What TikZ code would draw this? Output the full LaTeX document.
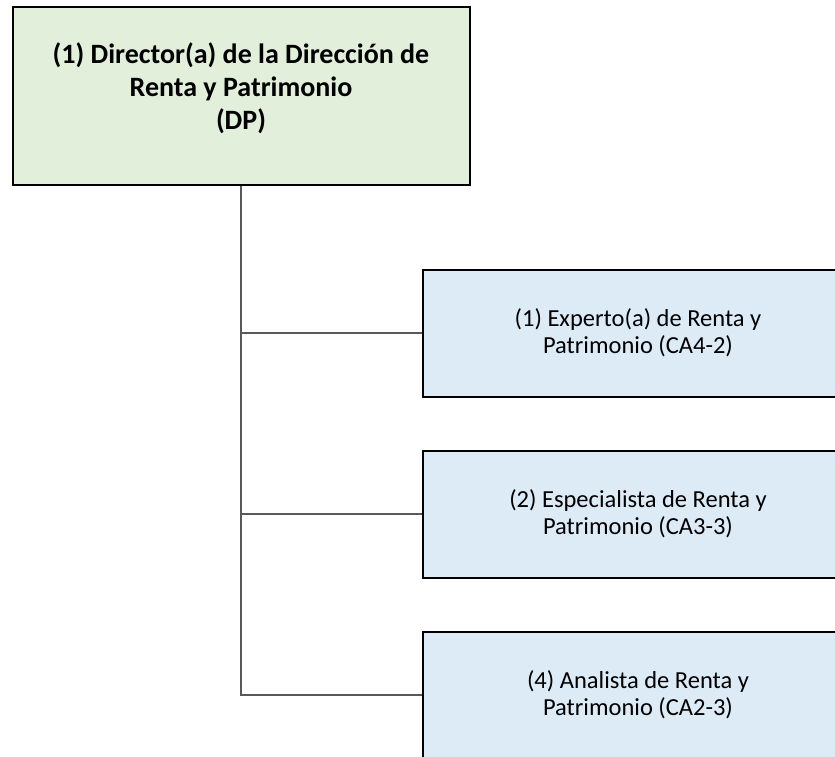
\documentclass[tikz,border=0pt]{standalone}
\usepackage{fontspec}
\setmainfont{Carlito}
\usepackage{tikz}
\usetikzlibrary{positioning}
\definecolor{dirgreen}{HTML}{E2EFDA}
\definecolor{posblue}{HTML}{DDEBF7}
\definecolor{linkgray}{HTML}{595959}

\begin{document}
\begin{tikzpicture}[
  x=1pt, y=-1pt,
  director/.style={rectangle, draw=black, line width=2pt, fill=dirgreen,
                   minimum width=457pt, minimum height=177pt, align=center,
                   font=\fontsize{28}{33}\selectfont\bfseries},
  post/.style={rectangle, draw=black, line width=2pt, fill=posblue,
               minimum width=430pt, minimum height=127pt, align=center,
               font=\fontsize{24.5}{27}\selectfont},
  link/.style={draw=linkgray, line width=1.3pt}
]
  \clip (0,0) rectangle (835,757);
  \fill[white] (0,0) rectangle (835,757);

  \node[director] (dp) at (241,96)
    {(1) Director(a) de la Dirección de\\Renta y Patrimonio\\(DP)\\[-14pt]\mbox{}};

  \node[post] (exp) at (638,333) {(1) Experto(a) de Renta y\\Patrimonio (CA4-2)};
  \node[post] (esp) at (638,514) {(2) Especialista de Renta y\\Patrimonio (CA3-3)};
  \node[post] (ana) at (638,695) {(4) Analista de Renta y\\Patrimonio (CA2-3)};

  \draw[link] (dp.south) |- (exp.west);
  \draw[link] (dp.south) |- (esp.west);
  \draw[link] (dp.south) |- (ana.west);
\end{tikzpicture}
\end{document}
